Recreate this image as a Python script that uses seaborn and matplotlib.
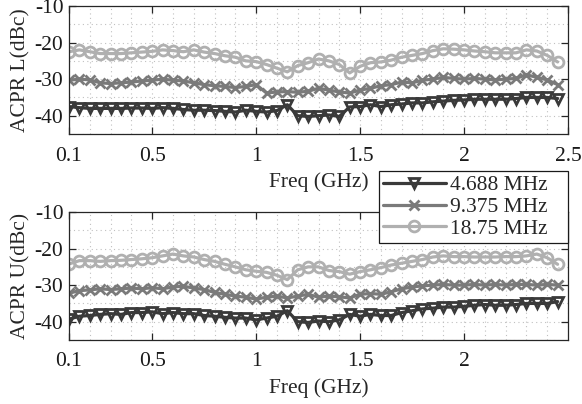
import numpy as np
import pandas as pd
import matplotlib
matplotlib.use("Agg")
import matplotlib.pyplot as plt
import seaborn as sns
from matplotlib.ticker import MultipleLocator

freq = [0.10,0.15,0.20,0.25,0.30,0.35,0.40,0.45,0.50,0.55,0.60,0.65,0.70,0.75,0.80,0.85,
        0.90,0.95,1.00,1.05,1.10,1.15,1.20,1.25,1.30,1.35,1.40,1.45,1.50,1.55,1.60,1.65,
        1.70,1.75,1.80,1.85,1.90,1.95,2.00,2.05,2.10,2.15,2.20,2.25,2.30,2.35,2.40,2.45]

series_names = ["4.688 MHz", "9.375 MHz", "18.75 MHz"]

acpr_l_4688 = [-37.5,-37.8,-38.0,-38.0,-38.0,-38.0,-37.9,-37.9,-38.0,-37.8,-38.0,-38.3,-38.5,-38.5,-38.6,-38.8,
               -39.0,-38.5,-38.8,-39.0,-38.6,-37.0,-40.0,-40.2,-40.0,-39.8,-40.2,-37.6,-37.5,-37.0,-37.5,-37.0,
               -36.8,-36.5,-36.5,-36.2,-36.0,-35.8,-35.7,-35.5,-35.5,-35.5,-35.5,-35.3,-35.0,-35.0,-35.0,-35.3]
acpr_l_9375 = [-30.3,-30.0,-30.2,-31.0,-31.2,-31.0,-30.8,-30.5,-30.3,-30.0,-30.3,-30.5,-31.0,-31.5,-31.8,-32.0,
               -32.3,-32.0,-31.5,-33.8,-33.5,-33.4,-33.6,-33.3,-32.5,-33.0,-33.5,-33.8,-33.0,-32.5,-31.8,-31.5,
               -30.8,-31.0,-30.3,-30.0,-29.5,-29.8,-30.0,-29.8,-30.0,-30.2,-30.0,-29.8,-28.8,-29.5,-30.2,-31.5]
acpr_l_1875 = [-22.5,-22.0,-22.5,-23.0,-23.0,-23.0,-22.8,-22.6,-22.4,-22.0,-22.2,-22.5,-22.0,-22.6,-23.0,-23.6,
               -24.0,-25.0,-25.2,-26.0,-27.0,-28.0,-26.3,-25.5,-24.5,-25.0,-26.0,-28.3,-26.5,-25.5,-25.3,-24.8,
               -24.0,-23.5,-23.0,-22.2,-21.7,-21.8,-22.0,-22.3,-22.5,-22.8,-22.8,-22.8,-22.0,-22.3,-23.5,-25.3]

acpr_u_4688 = [-39.3,-38.5,-38.3,-38.0,-37.8,-38.0,-37.5,-37.5,-37.3,-37.8,-37.5,-37.8,-37.8,-38.3,-38.5,-38.8,
               -39.0,-39.0,-39.5,-39.0,-38.5,-37.0,-40.0,-40.2,-39.8,-40.0,-39.5,-38.0,-38.5,-38.0,-38.3,-38.3,
               -37.5,-37.0,-36.5,-36.3,-36.0,-36.0,-35.8,-35.5,-35.3,-35.5,-35.5,-35.3,-35.0,-35.0,-35.0,-34.5]
acpr_u_9375 = [-32.2,-31.5,-31.3,-31.0,-31.2,-31.0,-30.8,-31.0,-30.7,-31.0,-30.5,-30.3,-30.8,-31.2,-32.0,-32.5,
               -33.0,-33.3,-33.8,-33.3,-33.0,-33.5,-33.0,-32.5,-33.3,-33.0,-33.2,-33.5,-32.5,-32.3,-32.5,-31.8,
               -31.0,-30.5,-30.2,-30.0,-29.8,-30.0,-30.0,-29.8,-30.0,-29.8,-30.0,-29.8,-29.8,-30.0,-29.8,-30.0]
acpr_u_1875 = [-24.2,-23.3,-23.3,-23.5,-23.3,-23.2,-23.0,-22.8,-22.5,-22.0,-21.5,-22.0,-22.3,-23.0,-23.5,-24.3,
               -25.0,-25.8,-26.2,-26.5,-27.3,-28.5,-25.8,-25.0,-25.0,-26.0,-26.3,-27.0,-26.3,-25.8,-25.2,-24.5,
               -24.0,-23.5,-23.0,-22.3,-22.0,-22.2,-22.2,-22.3,-22.3,-22.3,-22.2,-22.2,-22.0,-21.5,-22.5,-24.3]

top_xticks = [0.1, 0.5, 1, 1.5, 2, 2.5]
top_xticklabels = ["0.1", "0.5", "1", "1.5", "2", "2.5"]
bot_xticks = [0.1, 0.5, 1, 1.5, 2]
bot_xticklabels = ["0.1", "0.5", "1", "1.5", "2"]
yticks = [-40, -30, -20, -10]
yticklabels = ["-40", "-30", "-20", "-10"]


def make_df(a, b, c):
    rows = []
    for name, vals in zip(series_names, [a, b, c]):
        for f, v in zip(freq, vals):
            rows.append({"freq": f, "acpr": v, "series": name})
    return pd.DataFrame(rows)


df_l = make_df(acpr_l_4688, acpr_l_9375, acpr_l_1875)
df_u = make_df(acpr_u_4688, acpr_u_9375, acpr_u_1875)

sns.set_style("ticks")
plt.rcParams["font.family"] = ["Liberation Serif", "DejaVu Serif"]
plt.rcParams["axes.unicode_minus"] = False

palette = {"4.688 MHz": "#3a3a3a", "9.375 MHz": "#7a7a7a", "18.75 MHz": "#b0b0b0"}
markers = {"4.688 MHz": "v", "9.375 MHz": "x", "18.75 MHz": "o"}

fig = plt.figure(figsize=(5.82, 4.04), dpi=100)
W, H = 582.0, 404.0
left = 69 / W
width = (568 - 69) / W
ax1 = fig.add_axes([left, 1 - 134 / H, width, 128 / H])
ax2 = fig.add_axes([left, 1 - 340 / H, width, 128 / H])

FS = 15.5

for ax, df, ylabel, xt, xtl in [(ax1, df_l, "ACPR L(dBc)", top_xticks, top_xticklabels),
                                 (ax2, df_u, "ACPR U(dBc)", bot_xticks, bot_xticklabels)]:
    for name in series_names:
        sub = df[df["series"] == name]
        sns.lineplot(data=sub, x="freq", y="acpr", color=palette[name],
                     marker=markers[name], linewidth=2.3, markersize=7.8,
                     markerfacecolor="none", markeredgecolor=palette[name],
                     markeredgewidth=2.0, legend=False, ax=ax, label=name)
    ax.set_xlim(0.1, 2.5)
    ax.set_ylim(-45, -10)
    ax.set_xticks(xt)
    ax.set_xticklabels(xtl)
    ax.set_yticks(yticks)
    ax.set_yticklabels(yticklabels)
    ax.xaxis.set_minor_locator(MultipleLocator(0.1))
    ax.yaxis.set_minor_locator(MultipleLocator(5))
    ax.grid(True, which="both", linestyle=(0, (1, 3)), color="#c0c0c0", linewidth=0.8)
    ax.tick_params(which="major", direction="in", top=True, right=True, length=5,
                   width=0.9, labelsize=FS, colors="#262626", labelcolor="#1a1a1a")
    ax.tick_params(axis="x", which="major", pad=9)
    ax.tick_params(axis="y", which="major", pad=4)
    ax.tick_params(which="minor", length=0)
    for sp in ax.spines.values():
        sp.set_visible(True)
        sp.set_color("#262626")
        sp.set_linewidth(0.9)
    ax.set_xlabel("Freq (GHz)", fontsize=FS, labelpad=5)
    ax.set_ylabel(ylabel, fontsize=FS, labelpad=3)
    ax.set_axisbelow(True)
    if ax.get_legend() is not None:
        ax.get_legend().remove()

handles = ax2.lines[:3]
leg_labels = [n + "   " for n in series_names]
leg = fig.legend(handles, leg_labels, loc="upper right",
                 bbox_to_anchor=(568 / W, 1 - 171 / H), bbox_transform=fig.transFigure,
                 fontsize=FS, frameon=True, fancybox=False, framealpha=1,
                 edgecolor="#1a1a1a", handlelength=2.9, handletextpad=0.2,
                 labelspacing=0.08, borderpad=0.2, borderaxespad=0)
leg.get_frame().set_linewidth(0.9)

fig.savefig("out.png", dpi=100)
